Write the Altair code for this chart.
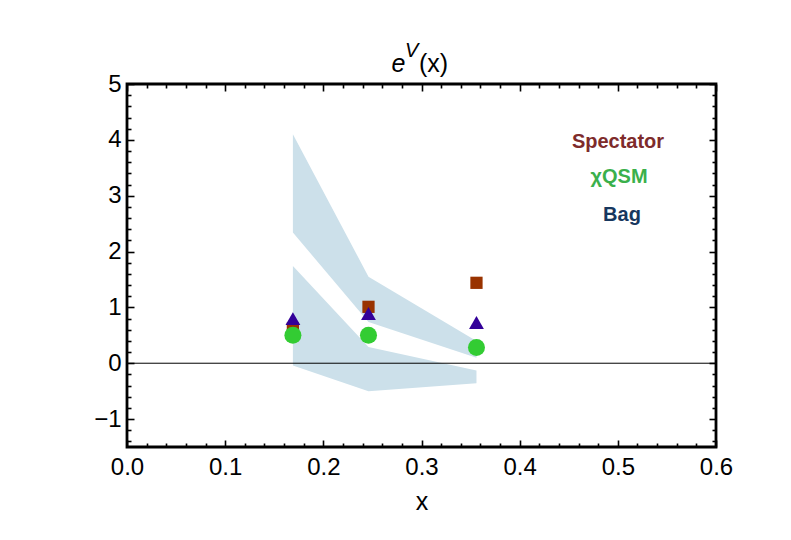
import altair as alt
import pandas as pd

# ---- data ----
x_bins = [0.169, 0.246, 0.356]
spectator = [0.62, 1.01, 1.44]
bag = [0.80, 0.89, 0.73]
chiqsm = [0.50, 0.50, 0.28]

upper_hi = [4.10, 1.55, 0.40]
upper_lo = [2.34, 0.74, 0.10]
lower_hi = [1.74, 0.29, -0.13]
lower_lo = [-0.04, -0.50, -0.36]

series_names = ["Spectator", "Bag", "χQSM"]
series_shapes = ["square", "triangle-up", "circle"]
series_colors = ["#993300", "#330099", "#33CC33"]
series_sizes = [150, 290, 250]

legend_labels = ["Spectator", "χQSM", "Bag"]
legend_colors = ["#7E2B2B", "#3AB04B", "#17375E"]

x_major = [0.0, 0.1, 0.2, 0.3, 0.4, 0.5, 0.6]
y_major = [-1, 0, 1, 2, 3, 4, 5]
x_all = [round(i * 0.02, 2) for i in range(31)]
y_all = [round(-1.4 + i * 0.2, 1) for i in range(33)]

X_DOMAIN = [0, 0.6]
Y_DOMAIN = [-1.5, 5]
W, H = 589, 363
FONT = "Liberation Sans"

bands_df = pd.DataFrame(
    [{"band": "upper", "x": x, "hi": h, "lo": l} for x, h, l in zip(x_bins, upper_hi, upper_lo)]
    + [{"band": "lower", "x": x, "hi": h, "lo": l} for x, h, l in zip(x_bins, lower_hi, lower_lo)]
)
points_df = pd.DataFrame(
    [{"series": "Spectator", "x": x, "y": y} for x, y in zip(x_bins, spectator)]
    + [{"series": "Bag", "x": x, "y": y} for x, y in zip(x_bins, bag)]
    + [{"series": "χQSM", "x": x, "y": y} for x, y in zip(x_bins, chiqsm)]
)
zero_df = pd.DataFrame({"x0": [0.0], "x1": [0.6], "y": [0.0]})


def xscale():
    return alt.Scale(domain=X_DOMAIN, nice=False, zero=False)


def yscale():
    return alt.Scale(domain=Y_DOMAIN, nice=False, zero=False)


x_major_test = "abs(datum.value*10 - round(datum.value*10)) < 0.001"
y_major_test = "abs(datum.value - round(datum.value)) < 0.001"


def tick_axis(orient, offset, values, test):
    return alt.Axis(
        orient=orient, offset=offset, values=values, labels=False, domain=False,
        grid=False, ticks=True, tickColor="black", tickWidth=1.6,
        tickSize={"condition": {"test": test, "value": 7}, "value": 4},
        title=None,
    )


label_x_axis = alt.Axis(
    orient="bottom", values=x_major, format=".1f", ticks=False, domain=False, grid=False,
    labelFont=FONT, labelFontSize=24, labelColor="black", labelPadding=8,
    labelFlush=False, labelOverlap=False, title="x", titleFont=FONT, titleFontSize=25,
    titleFontWeight="normal", titleColor="black", titleY=62, titleBaseline="alphabetic",
)
label_y_axis = alt.Axis(
    orient="left", values=y_major, format="d", ticks=False, domain=False, grid=False,
    labelFont=FONT, labelFontSize=24, labelColor="black", labelPadding=6,
    labelFlush=False, labelOverlap=False, title=None,
)

area = alt.Chart(bands_df).mark_area(color="#CCE0EA", opacity=1).encode(
    x=alt.X("x:Q", scale=xscale(), axis=label_x_axis),
    y=alt.Y("hi:Q", scale=yscale(), axis=label_y_axis),
    y2="lo:Q",
    detail="band:N",
)

zero_rule = alt.Chart(zero_df).mark_rule(color="black", strokeWidth=1).encode(
    x=alt.X("x0:Q", scale=xscale(), axis=tick_axis("bottom", -H, x_all, x_major_test)),
    x2="x1:Q",
    y=alt.Y("y:Q", scale=yscale(), axis=tick_axis("left", -W, y_all, y_major_test)),
)

points = alt.Chart(points_df).mark_point(filled=True, opacity=1, strokeWidth=0).encode(
    x=alt.X("x:Q", scale=xscale(), axis=tick_axis("top", -H, x_all, x_major_test)),
    y=alt.Y("y:Q", scale=yscale(), axis=tick_axis("right", -W, y_all, y_major_test)),
    shape=alt.Shape("series:N", scale=alt.Scale(domain=series_names, range=series_shapes), legend=None),
    color=alt.Color("series:N", scale=alt.Scale(domain=series_names, range=series_colors), legend=None),
    size=alt.Size("series:N", scale=alt.Scale(domain=series_names, range=series_sizes), legend=None),
)


def text_layer(txt, x, y, size, color="black", style="normal", weight="normal", align="left"):
    return alt.Chart(pd.DataFrame({"t": [txt]})).mark_text(
        font=FONT, fontSize=size, fontStyle=style, fontWeight=weight, align=align,
        baseline="alphabetic", color=color,
    ).encode(text="t:N", x=alt.value(x), y=alt.value(y))


title_layers = [
    text_layer("e", 264.5, -12.3, 25, style="italic"),
    text_layer("V", 278, -27.3, 20, style="italic"),
    text_layer("(x)", 292, -12.3, 25),
]

legend_layers = [
    text_layer(legend_labels[0], 491, 63.7, 20, color=legend_colors[0], weight="bold", align="center"),
    text_layer(legend_labels[1], 492, 98.7, 20, color=legend_colors[1], weight="bold", align="center"),
    text_layer(legend_labels[2], 495, 137, 20, color=legend_colors[2], weight="bold", align="center"),
]

chart = alt.layer(area, zero_rule, points, *title_layers, *legend_layers).resolve_scale(
    x="independent", y="independent"
).properties(
    width=W, height=H,
    autosize=alt.AutoSizeParams(type="none"),
    padding={"left": 119, "top": 76, "right": 60, "bottom": 70},
    background="white",
).configure_view(stroke="black", strokeWidth=2.8)

chart.save("out.html", embed_options={"renderer": "svg", "actions": False})
